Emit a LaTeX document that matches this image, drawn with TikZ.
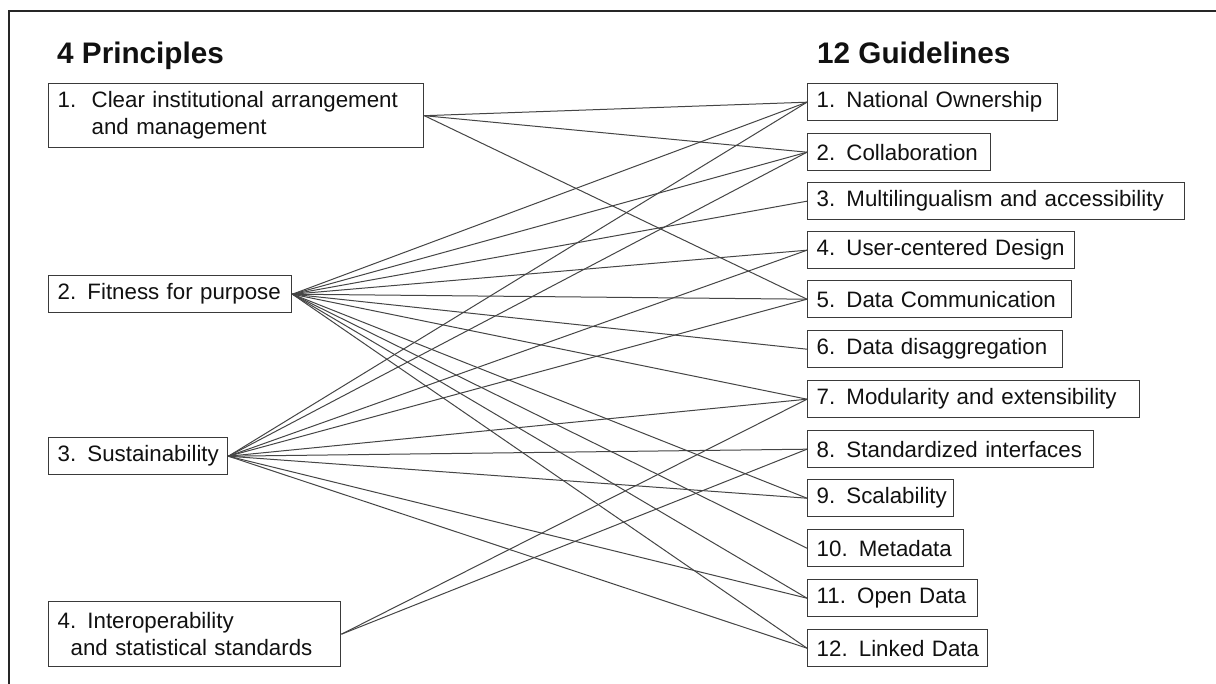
\documentclass[tikz,border=0pt]{standalone}
\usepackage{fontspec}
\setmainfont{Liberation Sans}
\newcommand{\lblfont}{\fontsize{22.3}{27}\selectfont}
\newcommand{\headfont}{\fontsize{29.7}{34}\selectfont\bfseries}
\definecolor{boxc}{HTML}{3A3A3A}
\definecolor{linec}{HTML}{454545}
\definecolor{txtc}{HTML}{111111}
\tikzset{
  lbox/.style={draw=boxc, line width=1.4pt, inner xsep=9pt, inner ysep=0pt,
    align=left, anchor=north west, font=\lblfont, text=txtc},
  rbox/.style={lbox, minimum height=37pt},
  head/.style={anchor=base west, inner sep=0pt, font=\headfont, text=txtc},
  conn/.style={draw=linec, line width=1pt},
}
\begin{document}
\begin{tikzpicture}[x=1pt,y=-1pt]
\useasboundingbox (0,0) rectangle (1216,684);
\fill[white] (0,0) rectangle (1216,684);
\draw[line width=2.2pt, black!85] (9.3,690) -- (9.3,10.7) -- (1222,10.7);

\node[head] (hp) at (57,64) {4 Principles};
\node[head] (hg) at (817,64) {12 Guidelines};

% principles
\node[lbox, minimum width=375pt, minimum height=64pt, text width=357pt] (p1) at (48,83)
  {\mbox{\makebox[34pt][l]{1.}Clear institutional arrangement}\\\hspace*{34pt}\mbox{and management}};
\node[lbox, minimum width=243pt, minimum height=37pt, text width=225pt] (p2) at (48,275)
  {\mbox{2. Fitness for purpose}};
\node[lbox, minimum width=179pt, minimum height=37pt, text width=161pt] (p3) at (48,437)
  {\mbox{3. Sustainability}};
\node[lbox, minimum width=292pt, minimum height=65pt, text width=274pt] (p4) at (48,601)
  {\mbox{4. Interoperability}\\\hspace*{13pt}\mbox{and statistical standards}};

% guidelines
\node[rbox, minimum width=250pt, text width=232pt] (g1) at (807,83) {\mbox{1. National Ownership}};
\node[rbox, minimum width=183pt, text width=165pt] (g2) at (807,133) {\mbox{2. Collaboration}};
\node[rbox, minimum width=377pt, text width=359pt] (g3) at (807,182) {\mbox{3. Multilingualism and accessibility}};
\node[rbox, minimum width=267pt, text width=249pt] (g4) at (807,231) {\mbox{4. User-centered Design}};
\node[rbox, minimum width=264pt, text width=246pt] (g5) at (807,280) {\mbox{5. Data Communication}};
\node[rbox, minimum width=255pt, text width=237pt] (g6) at (807,330) {\mbox{6. Data disaggregation}};
\node[rbox, minimum width=332pt, text width=314pt] (g7) at (807,380) {\mbox{7. Modularity and extensibility}};
\node[rbox, minimum width=286pt, text width=268pt] (g8) at (807,430) {\mbox{8. Standardized interfaces}};
\node[rbox, minimum width=146pt, text width=128pt] (g9) at (807,479) {\mbox{9. Scalability}};
\node[rbox, minimum width=156pt, text width=138pt] (g10) at (807,529) {\mbox{10. Metadata}};
\node[rbox, minimum width=170pt, text width=152pt] (g11) at (807,579) {\mbox{11. Open Data}};
\node[rbox, minimum width=180pt, text width=162pt] (g12) at (807,629) {\mbox{12. Linked Data}};

% connectors
\foreach \g in {1,2,5} \draw[conn] (p1.east) -- (g\g.west);
\foreach \g in {1,2,3,4,5,6,7,9,10,11,12} \draw[conn] (p2.east) -- (g\g.west);
\foreach \g in {1,2,4,5,7,8,9,11,12} \draw[conn] (p3.east) -- (g\g.west);
\foreach \g in {7,8} \draw[conn] (p4.east) -- (g\g.west);
\end{tikzpicture}
\end{document}
